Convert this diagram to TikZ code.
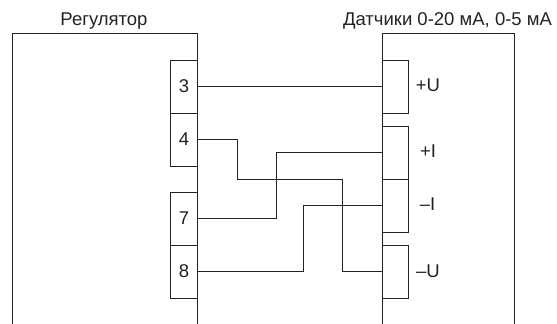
\documentclass[tikz,border=0pt]{standalone}
\usepackage{fontspec}
\setmainfont{Liberation Sans}
\definecolor{ink}{HTML}{222222}
\tikzset{
  wire/.style={draw=ink,line width=1pt},
  frame/.style={draw=ink,line width=1pt},
  terminal/.style={draw=ink,line width=1pt,rectangle,inner sep=0pt,outer sep=0pt,minimum width=27pt,minimum height=53pt,text=ink,text depth=2.5pt,font=\fontsize{18.5}{20}\selectfont},
  sensorpin/.style={terminal,minimum width=26pt},
  caption/.style={text=ink,inner sep=0pt,font=\fontsize{18.5}{20}\selectfont},
  pinlabel/.style={text=ink,inner sep=0pt,font=\fontsize{18.5}{20}\selectfont},
  mid/.style={yshift=0.5pt}
}
\begin{document}
\begin{tikzpicture}[x=1pt,y=-1pt]
\useasboundingbox (0,0) rectangle (557,324);
% blocks (open at the bottom)
\draw[frame] (12.5,324) -- (12.5,33.5) -- (197.5,33.5) -- (197.5,324);
\draw[frame] (382.5,324) -- (382.5,33.5) -- (514.5,33.5) -- (514.5,324);
\node[caption] (capL) at (104,20.7) {Регулятор};
\node[caption] (capR) at (447.5,20.7) {Датчики 0-20 мА, 0-5 мА};
% regulator terminals
\node[terminal] (t3) at (184,87) {3};
\node[terminal] (t4) at (184,140) {4};
\node[terminal] (t7) at (184,219) {7};
\node[terminal] (t8) at (184,272) {8};
% sensor terminals
\node[sensorpin] (sU) at (395.5,87) {};
\node[sensorpin] (sI) at (395.5,153) {};
\node[sensorpin] (sJ) at (395.5,206) {};
\node[sensorpin] (sV) at (395.5,272) {};
\node[pinlabel] (lU) at (428,85.5) {+U};
\node[pinlabel] (lI) at (428,151.5) {+I};
\node[pinlabel] (lJ) at (427.5,204.5) {–I};
\node[pinlabel] (lV) at (428,271) {–U};
% bends
\coordinate (b4a) at (237.5,139.5);
\coordinate (b4b) at (237.5,179.5);
\coordinate (b4c) at (342.5,179.5);
\coordinate (b4d) at (342.5,271.5);
\coordinate (b7a) at (276.5,218.5);
\coordinate (b7b) at (276.5,152.5);
\coordinate (b8a) at (303.5,271.5);
\coordinate (b8b) at (303.5,205.5);
% wires
\draw[wire] ([mid]t3.east) -- ([mid]sU.west);
\draw[wire] ([mid]t4.east) -- (b4a) -- (b4b) -- (b4c) -- (b4d) -- ([mid]sV.west);
\draw[wire] ([mid]t7.east) -- (b7a) -- (b7b) -- ([mid]sI.west);
\draw[wire] ([mid]t8.east) -- (b8a) -- (b8b) -- ([mid]sJ.west);
\end{tikzpicture}
\end{document}
